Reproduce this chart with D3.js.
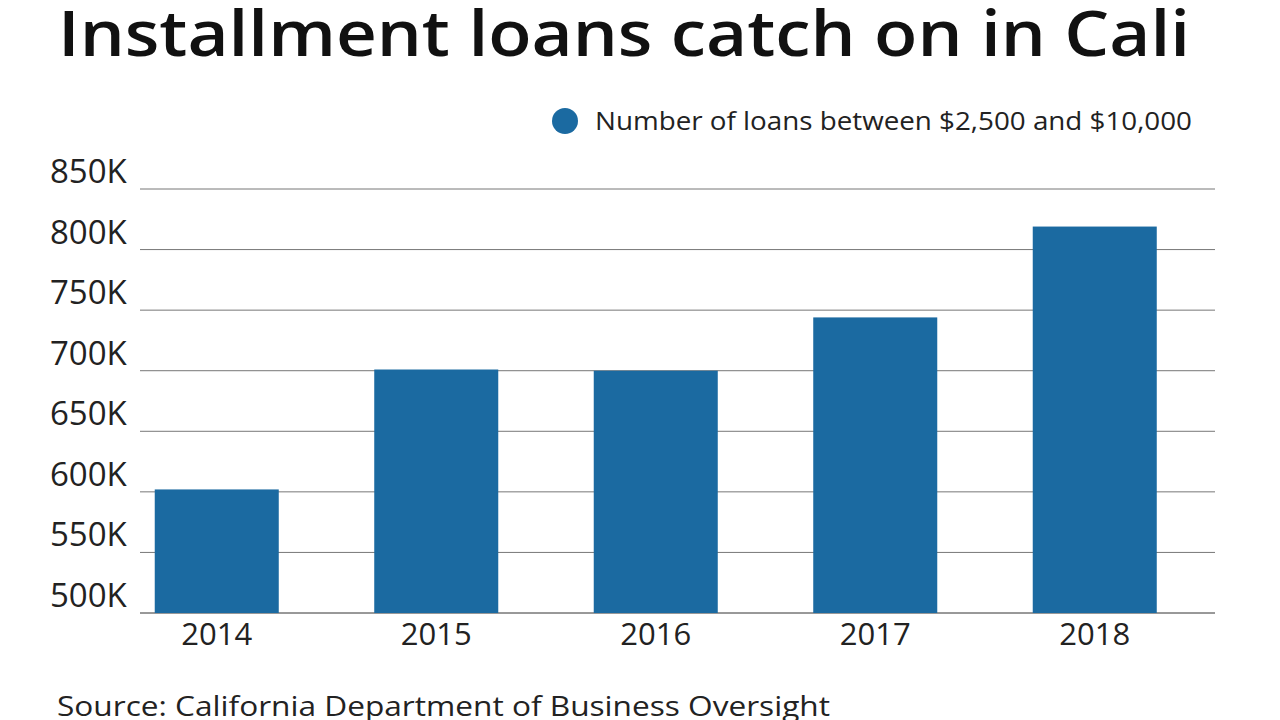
<!DOCTYPE html>
<html><head><meta charset="utf-8">
<script src="https://cdn.jsdelivr.net/npm/d3@7"></script>
<style>body{margin:0;background:#fff}text{font-family:"Open Sans",Lato,sans-serif}</style>
</head><body><div id="chart"></div>
<script>
// data
var years = ["2014", "2015", "2016", "2017", "2018"];
var loans = [602000, 701000, 700000, 744000, 819000];
var yTicks = [500000, 550000, 600000, 650000, 700000, 750000, 800000, 850000];

var svg = d3.select("#chart").append("svg").attr("width", 1280).attr("height", 720);

var x = d3.scaleBand().domain(years).range([107, 1204.5]).paddingInner(0.435).paddingOuter(0.2175);
var y = d3.scaleLinear().domain([500000, 850000]).range([613, 189]);

svg.append("text").attr("x", 58).attr("y", 56)
    .attr("textLength", 1132).attr("lengthAdjust", "spacingAndGlyphs")
    .style("font-size", "64px").style("font-weight", "600").attr("fill", "#111")
    .text("Installment loans catch on in Cali");

// legend
svg.append("circle").attr("cx", 565).attr("cy", 121).attr("r", 13).attr("fill", "#1b6aa1");
svg.append("text").attr("x", 595).attr("y", 130).style("font-size", "26px").attr("fill", "#222")
    .attr("textLength", 597).attr("lengthAdjust", "spacingAndGlyphs")
    .text("Number of loans between $2,500 and $10,000");

// gridlines
svg.append("g").selectAll("line").data(yTicks).enter().append("line")
    .attr("x1", 140).attr("x2", 1215)
    .attr("y1", d => y(d)).attr("y2", d => y(d))
    .attr("stroke", d => d === 500000 ? "#333" : "#777").attr("stroke-width", 1);

svg.append("g").selectAll("text").data(yTicks).enter().append("text")
    .attr("x", 50).attr("y", d => y(d) - 6)
    .style("font-size", "33px").attr("fill", "#222")
    .text(d => (d / 1000) + "K");

svg.append("g").selectAll("rect").data(loans).enter().append("rect")
    .attr("x", (d, i) => x(years[i])).attr("width", x.bandwidth())
    .attr("y", d => y(d)).attr("height", d => 613 - y(d))
    .attr("fill", "#1b6aa1");

svg.append("g").selectAll("text").data(years).enter().append("text")
    .attr("x", d => x(d) + x.bandwidth() / 2).attr("y", 645).attr("text-anchor", "middle")
    .style("font-size", "31px").attr("fill", "#222").text(d => d);

svg.append("text").attr("x", 57).attr("y", 716).style("font-size", "28px").attr("fill", "#222")
    .attr("textLength", 773).attr("lengthAdjust", "spacingAndGlyphs")
    .text("Source: California Department of Business Oversight");
</script></body></html>
